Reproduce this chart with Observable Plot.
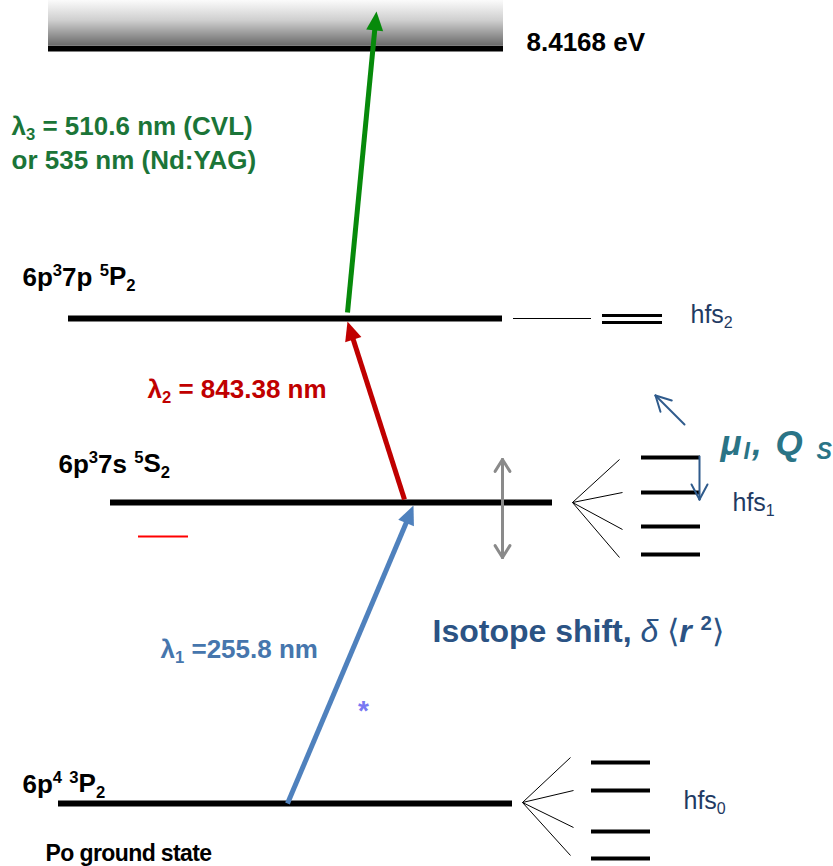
<!DOCTYPE html>
<html>
<head>
<meta charset="utf-8">
<script src="https://cdn.jsdelivr.net/npm/d3@7"></script>
<script src="https://cdn.jsdelivr.net/npm/@observablehq/plot@0.6"></script>
<style>
  html, body { margin: 0; padding: 0; background: #fff; }
  svg { display: block; }
</style>
</head>
<body>
<div id="chart"></div>
<script>
// ---- Data (schematic level diagram, units = diagram layout units) ----
const levels = [
  {name: "IP 8.4168 eV", x1: 48, x2: 503, y: 48},
  {name: "6p37p 5P2", x1: 68, x2: 502, y: 318},
  {name: "6p37s 5S2", x1: 110, x2: 552, y: 502},
  {name: "6p4 3P2", x1: 58, x2: 512, y: 803}
];
const continuum = [{x1: 48, x2: 503, y1: 0, y2: 45}];

const transitions = [
  {id: "λ1", x1: 287, y1: 803, x2: 413, y2: 505},
  {id: "λ2", x1: 404, y1: 499, x2: 347, y2: 321},
  {id: "λ3", x1: 347, y1: 312, x2: 376, y2: 11}
];
const transitionColors = ["#4f81bd", "#c00000", "#078a0b"];

const hfs2Connector = [{x1: 513, x2: 591, y: 318}];
const hfs2Levels = [{x1: 602, x2: 662, y: 315}, {x1: 602, x2: 662, y: 322}];
const hfs1Levels = [457, 492, 526, 554].map(y => ({x1: 641, x2: 700, y}));
const hfs0Levels = [762, 790, 831, 858].map(y => ({x1: 591, x2: 650, y}));

const fan1 = {x: 572, y: 502, ends: [[619, 459], [622, 492], [622, 529], [619, 557]]};
const fan0 = {x: 522, y: 802, ends: [[570, 757], [573, 790], [573, 827], [570, 855]]};

const isotopeArrow = [
  {x1: 502, y1: 508, x2: 502, y2: 459},
  {x1: 502, y1: 508, x2: 502, y2: 557}
];
const momentArrows = [
  {x1: 699, y1: 456, x2: 699, y2: 499},
  {x1: 684, y1: 424, x2: 655, y2: 395}
];
const redMark = [{x1: 138, x2: 188, y: 536}];

const labelsBlack = [
  {x: 526, y: 50, text: "8.4168 eV"},
  {x: 22, y: 285, text: "6p^{3}7p ^{5}P_{2}"},
  {x: 58, y: 472, text: "6p^{3}7s ^{5}S_{2}"},
  {x: 22, y: 792, text: "6p^{4} ^{3}P_{2}"}
];
const labelGround = [{x: 45, y: 860, text: "Po ground state"}];
const labelsGreen = [
  {x: 11, y: 134, text: "λ_{3} = 510.6 nm (CVL)"},
  {x: 11, y: 168, text: "or 535 nm (Nd:YAG)"}
];
const labelRed = [{x: 147, y: 397, text: "λ_{2} = 843.38 nm"}];
const labelBlue = [{x: 160, y: 657, text: "λ_{1} =255.8 nm"}];
const labelIsotope = [{x: 432, y: 641, text: "Isotope shift, %{δ} ={⟨}~{r} ^{2}={⟩}"}];
const labelMoments = [{x: 720, y: 454, text: "μ_{I}, Q _{S}"}];
const labelsHfs = [
  {x: 690, y: 322, text: "hfs_{2}"},
  {x: 732, y: 510, text: "hfs_{1}"},
  {x: 683, y: 808, text: "hfs_{0}"}
];
const asterisk = [{x: 363, y: 719, text: "*"}];

// ---- helpers derived from the data ----
function filledHead(a, len, half) {
  const dx = a.x2 - a.x1, dy = a.y2 - a.y1, L = Math.hypot(dx, dy);
  const ux = dx / L, uy = dy / L, nx = -uy, ny = ux;
  const bx = a.x2 - len * ux, by = a.y2 - len * uy;
  return {
    shaft: {x1: a.x1, y1: a.y1, x2: bx + 2 * ux, y2: by + 2 * uy},
    poly: [
      {id: a.id, x: a.x2, y: a.y2},
      {id: a.id, x: bx + half * nx, y: by + half * ny},
      {id: a.id, x: bx - half * nx, y: by - half * ny}
    ]
  };
}
function openArrow(a, wing, angDeg) {
  const dx = a.x2 - a.x1, dy = a.y2 - a.y1, L = Math.hypot(dx, dy);
  const bx = -dx / L, by = -dy / L, ang = angDeg * Math.PI / 180;
  const segs = [{x1: a.x1, y1: a.y1, x2: a.x2, y2: a.y2}];
  for (const s of [1, -1]) {
    const c = Math.cos(s * ang), sn = Math.sin(s * ang);
    const rx = bx * c - by * sn, ry = bx * sn + by * c;
    segs.push({x1: a.x2, y1: a.y2, x2: a.x2 + wing * rx, y2: a.y2 + wing * ry});
  }
  return segs;
}
const fanLinks = f => f.ends.map(([x, y]) => ({x1: f.x, y1: f.y, x2: x, y2: y}));

const FONT = "'Liberation Sans', Arial, Helvetica, sans-serif";
const txt = (data, o) => Plot.text(data, {x: "x", y: "y", text: "text", textAnchor: "start", lineAnchor: "bottom", fontFamily: FONT, ...o});

const marks = [
  Plot.rect(continuum, {x1: "x1", x2: "x2", y1: "y1", y2: "y2", fill: "url(#topfade)"}),
  Plot.ruleY(levels, {y: "y", x1: "x1", x2: "x2", stroke: "#000", strokeWidth: 6}),
  Plot.ruleY(hfs2Connector, {y: "y", x1: "x1", x2: "x2", stroke: "#000", strokeWidth: 1}),
  Plot.ruleY(hfs2Levels, {y: "y", x1: "x1", x2: "x2", stroke: "#000", strokeWidth: 3}),
  Plot.ruleY(hfs1Levels, {y: "y", x1: "x1", x2: "x2", stroke: "#000", strokeWidth: 4}),
  Plot.ruleY(hfs0Levels, {y: "y", x1: "x1", x2: "x2", stroke: "#000", strokeWidth: 4}),
  Plot.link(fanLinks(fan1).concat(fanLinks(fan0)), {x1: "x1", y1: "y1", x2: "x2", y2: "y2", stroke: "#000", strokeWidth: 1}),
  Plot.ruleY(redMark, {y: "y", x1: "x1", x2: "x2", stroke: "#ff0000", strokeWidth: 2}),
  Plot.link(isotopeArrow.flatMap(a => openArrow(a, 14, 32)), {x1: "x1", y1: "y1", x2: "x2", y2: "y2", stroke: "#8a8a8a", strokeWidth: 3, strokeLinecap: "round"}),
  Plot.link(momentArrows.flatMap(a => openArrow(a, 17, 28)), {x1: "x1", y1: "y1", x2: "x2", y2: "y2", stroke: "#2f5b8c", strokeWidth: 2, strokeLinecap: "round"})
];
transitions.forEach((t, i) => {
  const h = filledHead(t, 19, 8.5);
  marks.push(Plot.link([h.shaft], {x1: "x1", y1: "y1", x2: "x2", y2: "y2", stroke: transitionColors[i], strokeWidth: 5}));
  marks.push(Plot.line(h.poly, {x: "x", y: "y", z: "id", fill: transitionColors[i], stroke: "none"}));
});
marks.push(
  txt(labelsBlack, {fill: "#000", fontSize: 26, fontWeight: "bold"}),
  txt(labelGround, {fill: "#000", fontSize: 23, fontWeight: "bold"}),
  txt(labelsGreen, {fill: "#1b7538", fontSize: 26, fontWeight: "bold"}),
  txt(labelRed, {fill: "#c00000", fontSize: 26, fontWeight: "bold"}),
  txt(labelBlue, {fill: "#4676ad", fontSize: 26, fontWeight: "bold"}),
  txt(labelIsotope, {fill: "#2b5384", fontSize: 32, fontWeight: "bold"}),
  txt(labelMoments, {fill: "#2a7486", fontSize: 35, fontWeight: "bold", fontStyle: "italic"}),
  txt(labelsHfs, {fill: "#1f3a63", fontSize: 25}),
  txt(asterisk, {fill: "#7878f2", fontSize: 28, fontWeight: "bold", textAnchor: "middle"})
);

const svg = Plot.plot({
  width: 833,
  height: 866,
  margin: 0,
  x: {domain: [0, 833], range: [0, 833], axis: null},
  y: {domain: [0, 866], range: [0, 866], axis: null},
  style: {background: "#fff", fontFamily: FONT},
  marks
});

// gradient definition for the continuum band
const NS = "http://www.w3.org/2000/svg";
const defs = document.createElementNS(NS, "defs");
const grad = document.createElementNS(NS, "linearGradient");
grad.setAttribute("id", "topfade");
grad.setAttribute("x1", "0"); grad.setAttribute("y1", "0");
grad.setAttribute("x2", "0"); grad.setAttribute("y2", "1");
[["0", "#fbfbfb"], ["0.45", "#cfcfcf"], ["1", "#6c6c6c"]].forEach(([o, c]) => {
  const s = document.createElementNS(NS, "stop");
  s.setAttribute("offset", o); s.setAttribute("stop-color", c);
  grad.appendChild(s);
});
defs.appendChild(grad);
svg.insertBefore(defs, svg.firstChild);

// rich text: _{sub}, ^{sup}, ~{italic}, %{italic normal}, ={normal weight}
svg.querySelectorAll("text").forEach(t => {
  const s = t.textContent;
  if (s === "Po ground state") t.setAttribute("letter-spacing", "-0.6");
  const isMoment = s.startsWith("μ");
  if (isMoment) t.setAttribute("letter-spacing", "2");
  if (!/[_^~%=]\{/.test(s)) return;
  const parts = [];
  const re = /([_^~%=])\{([^}]*)\}/g;
  let last = 0, m;
  while ((m = re.exec(s))) {
    if (m.index > last) parts.push({t: s.slice(last, m.index), k: ""});
    parts.push({t: m[2], k: m[1]});
    last = re.lastIndex;
  }
  if (last < s.length) parts.push({t: s.slice(last), k: ""});
  while (t.firstChild) t.removeChild(t.firstChild);
  let cur = 0;
  for (const p of parts) {
    const ts = document.createElementNS(NS, "tspan");
    let scale = 1, target = 0;
    if (p.k === "_") { scale = isMoment ? 0.66 : 0.64; target = isMoment ? 0.14 : 0.2; }
    else if (p.k === "^") { scale = 0.64; target = -0.36; }
    else if (p.k === "~") { ts.setAttribute("font-style", "italic"); }
    else if (p.k === "%") { ts.setAttribute("font-style", "italic"); ts.setAttribute("font-weight", "normal"); }
    else if (p.k === "=") { ts.setAttribute("font-weight", "normal"); }
    if (scale !== 1) ts.setAttribute("font-size", (scale * 100) + "%");
    const d = (target - cur) / scale;
    if (Math.abs(d) > 1e-6) ts.setAttribute("dy", d.toFixed(3) + "em");
    cur = target;
    ts.textContent = p.t;
    t.appendChild(ts);
  }
});

document.getElementById("chart").appendChild(svg);
</script>
</body>
</html>
